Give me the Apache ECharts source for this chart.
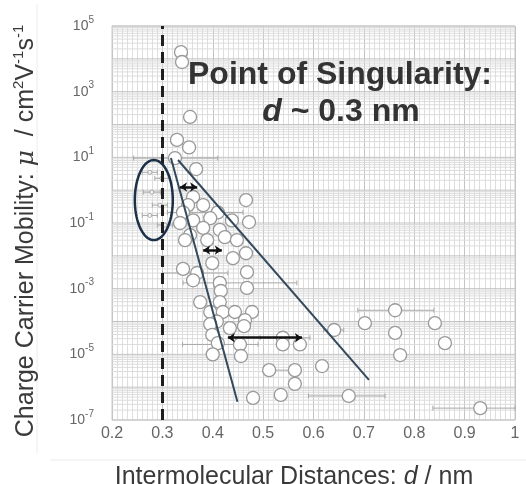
<!DOCTYPE html>
<html><head><meta charset="utf-8">
<script src="https://cdn.jsdelivr.net/npm/echarts@6/dist/echarts.min.js"></script>
<style>html,body{margin:0;padding:0;background:#fff}#c{width:526px;height:484px}</style>
</head><body><div id="c"></div>
<script>
// ---- data ----
const xTickMin = 0.2, xTickMax = 1.0, xTickStep = 0.1;
const yMin = 1e-7, yMax = 1e5;
const yTickExponents = [-7, -5, -3, -1, 1, 3, 5];

const distances = [0.337,0.339,0.355,0.329,0.353,0.325,0.367,0.466,0.472,0.361,0.351,0.381,0.410,0.341,0.395,0.361,0.335,0.438,0.414,0.381,0.355,0.389,0.424,0.448,0.345,0.399,0.440,0.466,0.341,0.369,0.361,0.414,0.416,0.468,0.468,0.375,0.414,0.395,0.420,0.444,0.478,0.464,0.408,0.395,0.462,0.434,0.399,0.454,0.410,0.400,0.456,0.539,0.539,0.573,0.641,0.702,0.762,0.762,0.772,0.841,0.861,0.512,0.563,0.617,0.563,0.480,0.535,0.670,0.931];
const mobilities = [1.6e4,8.0e3,170,34,20,9.5,4.4,0.50,0.107,0.62,0.35,0.35,0.21,0.21,0.14,0.12,0.10,0.12,0.062,0.071,0.043,0.030,0.037,0.030,0.030,0.0060,0.0085,0.012,0.0040,0.0030,0.0018,0.0015,8.5e-4,1.05e-3,3.2e-3,3.9e-4,3.9e-4,1.95e-4,1.95e-4,1.95e-4,1.95e-4,1.1e-4,1.0e-4,8.3e-5,7.2e-5,6.3e-5,3.9e-5,2.0e-5,2.2e-5,1.0e-5,8.9e-6,3.2e-5,2.0e-5,2.0e-5,5.5e-5,8.9e-5,2.2e-4,4.5e-5,9.5e-6,8.9e-5,2.2e-5,3.3e-6,3.3e-6,4.4e-6,1.26e-6,4.7e-7,5.8e-7,5.4e-7,2.3e-7];

// small marks inside the ellipse
const smallDist = [0.275,0.299,0.279,0.295,0.275,0.305];
const smallMob  = [3.5,2.3,0.87,0.35,0.17,0.087];

// horizontal error bars: [x, y, xLow, xHigh]
const errBars = [
  [0.762,2.2e-4,0.688,0.839],[0.931,2.3e-7,0.837,1.0],[0.670,5.4e-7,0.59,0.742],
  [0.512,3.3e-6,0.50,0.575],[0.414,0.0015,0.341,0.567],[0.454,2.0e-5,0.34,0.49],
  [0.325,9.5,0.243,0.41],[0.410,0.21,0.31,0.46],[0.369,0.003,0.30,0.43],
  [0.539,3.2e-5,0.494,0.593],[0.641,5.5e-5,0.62,0.66],
  [0.275,3.5,0.26,0.29],[0.299,2.3,0.285,0.315],[0.279,0.87,0.262,0.296],
  [0.295,0.35,0.28,0.31],[0.275,0.17,0.26,0.29],[0.305,0.087,0.29,0.32]
];

// fitted guide lines (end points)
const steepLine = [[0.317, 9.5], [0.449, 3.6e-7]];
const shallowLine = [[0.331, 8.3], [0.710, 1.66e-6]];

// double-headed arrows: [xStart, xEnd, y]
const arrows = [[0.335,0.369,1.25],[0.381,0.418,0.015],[0.430,0.577,3.2e-5]];

const singularityX = 0.3;
// ellipse: center x, center y, x radius, y radius (decades)
const ellipse = [0.283, 0.50, 0.0377, 1.22];

const titleLine1 = 'Point of Singularity:';
const titleLine2 = '{i|d}{n| ~ 0.3 nm}';

// ---- chart ----
const FONT = 'Liberation Sans, Arial, sans-serif';
const scatterData = distances.map((d, i) => [d, mobilities[i]]);
const smallData = smallDist.map((d, i) => [d, smallMob[i]]);

const gridYValues = [];
for (let e = -7; e < 5; e++) for (let k = 1; k <= 9; k++) gridYValues.push([xTickMin, k * Math.pow(10, e), k === 1 ? 1 : 0]);
gridYValues.push([xTickMin, yMax, 1]);

const chart = echarts.init(document.getElementById('c'), null, {renderer: 'canvas'});
chart.setOption({
  animation: false,
  backgroundColor: '#fff',
  grid: {left: 112, right: 11, top: 26, bottom: 64, show: true, borderColor: '#c8c8c8', borderWidth: 1,
    containLabel: false, outerBoundsMode: 'none'},
  xAxis: {
    type: 'value', min: xTickMin, max: xTickMax, interval: xTickStep,
    axisLine: {show: false}, axisTick: {show: false},
    axisLabel: {fontSize: 16, color: '#666', fontFamily: FONT, margin: 6,
      formatter: v => (Math.round(v * 10) / 10).toString()},
    splitLine: {show: true, lineStyle: {color: '#c4c4c4', width: 1}},
    minorTick: {show: false, splitNumber: 10},
    minorSplitLine: {show: true, lineStyle: {color: '#dedede', width: 1}},
    name: '{n|Intermolecular Distances: }{i|d}{n| / nm}',
    nameLocation: 'middle', nameGap: 45,
    nameTextStyle: {padding: [0, 39, 0, 0], rich: {
      n: {fontSize: 25, color: '#3a3a3a', fontFamily: FONT},
      i: {fontSize: 25, color: '#3a3a3a', fontFamily: FONT, fontStyle: 'italic'}
    }}
  },
  yAxis: {
    type: 'log', logBase: 10, min: yMin, max: yMax, interval: 2,
    axisLine: {show: false}, axisTick: {show: false},
    splitLine: {show: false},
    axisLabel: {margin: 18, fontFamily: FONT,
      formatter: v => { const e = Math.round(Math.log10(v)); return yTickExponents.includes(e) ? '{b|10}{s|' + e + '}' : ''; },
      rich: {
        b: {fontSize: 14, color: '#666', lineHeight: 22, fontFamily: FONT},
        s: {fontSize: 10, color: '#666', lineHeight: 10, verticalAlign: 'top', fontFamily: FONT}
      }},
    name: '{n|Charge Carrier Mobility: }{i|μ}{n|  / cm}{s|2}{n|V}{s|-1}{n|s}{s|-1}',
    nameLocation: 'middle', nameGap: 71,
    nameTextStyle: {padding: [0, 16, 0, 0], rich: {
      n: {fontSize: 25, color: '#3a3a3a', lineHeight: 30, fontFamily: FONT},
      i: {fontSize: 25, color: '#3a3a3a', lineHeight: 30, fontFamily: 'DejaVu Serif, serif', fontStyle: 'italic'},
      s: {fontSize: 15, color: '#3a3a3a', lineHeight: 15, verticalAlign: 'top', fontFamily: FONT}
    }}
  },
  graphic: [
    {type: 'text', x: 340, y: 75, z: 100, style: {text: titleLine1, textAlign: 'center', textVerticalAlign: 'middle',
      font: 'bold 32px ' + FONT, fill: '#333'}},
    {type: 'text', x: 341, y: 112, z: 100, style: {text: titleLine2, textAlign: 'center', textVerticalAlign: 'middle',
      rich: {i: {fontSize: 32, fontWeight: 'bold', fontStyle: 'italic', fontFamily: FONT, fill: '#333'},
             n: {fontSize: 32, fontWeight: 'bold', fontFamily: FONT, fill: '#333'}}}},
    {type: 'line', shape: {x1: 50, y1: 460, x2: 526, y2: 460}, style: {stroke: '#ececec', lineWidth: 1}},
    {type: 'line', shape: {x1: 37, y1: 4, x2: 37, y2: 453}, style: {stroke: '#ececec', lineWidth: 1}}
  ],
  series: [
    { // horizontal log grid lines
      type: 'custom', z: 1, silent: true, data: gridYValues,
      renderItem: (params, api) => {
        const p0 = api.coord([xTickMin, api.value(1)]);
        const p1 = api.coord([xTickMax, api.value(1)]);
        return {type: 'line', shape: {x1: p0[0], y1: p0[1], x2: p1[0], y2: p1[1]},
          style: {stroke: api.value(2) ? '#c4c4c4' : '#dcdcdc', lineWidth: 1}};
      }
    },
    { // error bars
      type: 'custom', z: 2, silent: true, data: errBars,
      renderItem: (params, api) => {
        const y = api.value(1);
        const a = api.coord([api.value(2), y]);
        const b = api.coord([api.value(3), y]);
        const st = {stroke: '#a8a8a8', lineWidth: 1};
        return {type: 'group', children: [
          {type: 'line', shape: {x1: a[0], y1: a[1], x2: b[0], y2: b[1]}, style: st},
          {type: 'line', shape: {x1: a[0], y1: a[1] - 2.5, x2: a[0], y2: a[1] + 2.5}, style: st},
          {type: 'line', shape: {x1: b[0], y1: b[1] - 2.5, x2: b[0], y2: b[1] + 2.5}, style: st}
        ]};
      }
    },
    {type: 'scatter', z: 3, data: smallData, symbol: 'circle', symbolSize: 4,
      itemStyle: {color: '#fff', borderColor: '#999', borderWidth: 1}},
    {type: 'scatter', z: 4, data: scatterData, symbol: 'circle', symbolSize: 13,
      itemStyle: {color: '#fff', borderColor: '#999', borderWidth: 1.3, opacity: 1}},
    {type: 'line', z: 5, data: steepLine, symbol: 'none', lineStyle: {color: '#34495c', width: 2}},
    {type: 'line', z: 5, data: shallowLine, symbol: 'none', lineStyle: {color: '#34495c', width: 2}},
    { // arrows + dashed singularity line
      type: 'line', z: 6, data: [],
      markLine: {
        silent: true, animation: false, label: {show: false},
        data: [
          ...arrows.map(a => [{coord: [a[0], a[2]], symbol: 'arrow', symbolSize: [7, 7]},
                              {coord: [a[1], a[2]], symbol: 'arrow', symbolSize: [7, 7]}]),
          [{coord: [singularityX, yMin], symbol: 'none'}, {coord: [singularityX, yMax], symbol: 'none',
            lineStyle: {color: '#1e1e1e', width: 3, type: [11, 6]}}]
        ],
        lineStyle: {color: '#111', width: 2.5, type: 'solid'}
      }
    },
    { // ellipse annotation
      type: 'custom', z: 7, silent: true, data: [ellipse],
      renderItem: (params, api) => {
        const cx = api.value(0), cy = api.value(1), rx = api.value(2), ry = api.value(3);
        const c = api.coord([cx, cy]);
        const r = api.coord([cx + rx, cy]);
        const t = api.coord([cx, cy * Math.pow(10, ry)]);
        const a = r[0] - c[0], b = c[1] - t[1];
        const pts = [];
        for (let i = 0; i < 72; i++) { const th = i / 72 * 2 * Math.PI; pts.push([c[0] + a * Math.cos(th), c[1] + b * Math.sin(th)]); }
        return {type: 'polygon', shape: {points: pts}, style: {fill: 'none', stroke: '#1c3048', lineWidth: 2.5}};
      }
    }
  ]
});
</script></body></html>
